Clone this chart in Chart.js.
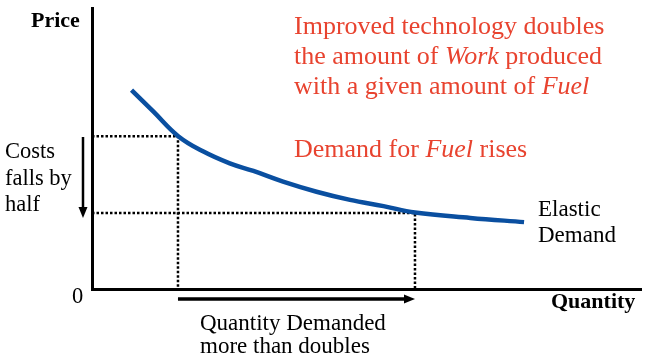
<!DOCTYPE html>
<html>
<head>
<meta charset="utf-8">
<script src="https://cdn.jsdelivr.net/npm/chart.js@4.4.1/dist/chart.umd.min.js"></script>
<style>
html,body{margin:0;padding:0;background:#fff;overflow:hidden;}
</style>
</head>
<body>
<canvas id="c" width="649" height="361"></canvas>
<script>
// Demand curve (quantity, price)
const curveQuantity = [7.2, 11.2, 15.7, 20.3, 25.1, 29.4, 34.8, 40.9, 47.0, 53.1, 58.83, 68.9, 78.7];
const curvePrice    = [70.8, 63.1, 54.4, 48.9, 44.7, 42.0, 38.2, 34.6, 31.7, 29.5, 27.2, 25.3, 23.8];
// Before / after points
const oldPoint = {q: 15.66, p: 54.4};
const newPoint = {q: 58.83, p: 27.05};
// Arrows (data units)
const priceArrow = {q: -1.64, from: 54.1, to: 25.3};
const qtyArrow   = {p: -3.6, from: 15.66, to: 58.83};

const serif = '"Liberation Serif", Times, serif';
const red = '#e8432f';

const curveData = curveQuantity.map((q, i) => ({x: q, y: curvePrice[i]}));
const dot1 = [{x: 0, y: oldPoint.p}, {x: oldPoint.q, y: oldPoint.p}, {x: oldPoint.q, y: 0}];
const dot2 = [{x: 0, y: newPoint.p}, {x: newPoint.q, y: newPoint.p}, {x: newPoint.q, y: 0}];

// prime serif fonts on the main canvas context before the chart draws
const canvasEl = document.getElementById('c');
(function () {
  const t = canvasEl.getContext('2d');
  ['22px serif', '22px Times', '22px "Liberation Serif"', 'bold 22px serif', 'italic 22px serif',
   'bold 22px "Liberation Serif"', 'italic 22px "Liberation Serif"'].forEach(f => {
    t.font = f; t.fillStyle = '#fff'; t.fillText('Price Costs', 0, 20);
  });
  t.clearRect(0, 0, canvasEl.width, canvasEl.height);
})();
Chart.defaults.font.family = serif;

const annot = {
  id: 'annot',
  afterDraw(chart) {
    const ctx = chart.ctx;
    const xs = chart.scales.x, ys = chart.scales.y;
    ctx.save();
    ctx.fillStyle = '#000';
    ctx.strokeStyle = '#000';
    ctx.lineWidth = 2.5;
    // down arrow
    const ax = xs.getPixelForValue(priceArrow.q);
    const ay1 = ys.getPixelForValue(priceArrow.from);
    const ay2 = ys.getPixelForValue(priceArrow.to);
    ctx.beginPath(); ctx.moveTo(ax, ay1); ctx.lineTo(ax, ay2 - 8); ctx.stroke();
    ctx.beginPath(); ctx.moveTo(ax - 4.5, ay2 - 11); ctx.lineTo(ax + 4.5, ay2 - 11); ctx.lineTo(ax, ay2); ctx.closePath(); ctx.fill();
    // right arrow
    const by = ys.getPixelForValue(qtyArrow.p);
    const bx1 = xs.getPixelForValue(qtyArrow.from);
    const bx2 = xs.getPixelForValue(qtyArrow.to);
    ctx.lineWidth = 3.5;
    ctx.beginPath(); ctx.moveTo(bx1, by); ctx.lineTo(bx2 - 8, by); ctx.stroke();
    ctx.beginPath(); ctx.moveTo(bx2 - 11, by - 4.5); ctx.lineTo(bx2 - 11, by + 4.5); ctx.lineTo(bx2, by); ctx.closePath(); ctx.fill();

    // texts
    ctx.textAlign = 'left';
    ctx.textBaseline = 'alphabetic';
    ctx.fillStyle = '#000';
    ctx.font = 'bold 22px ' + serif;
    ctx.fillText('Price', 31, 27);
    ctx.fillText('Quantity', 551, 308);
    ctx.font = '22.5px ' + serif;
    ctx.fillText('Costs', 5, 158);
    ctx.fillText('falls by', 5, 185);
    ctx.fillText('half', 5, 211);
    ctx.fillText('0', 72, 303);
    ctx.font = '23px ' + serif;
    ctx.fillText('Elastic', 538, 216);
    ctx.fillText('Demand', 538, 242);
    ctx.fillText('Quantity Demanded', 200, 330);
    ctx.fillText('more than doubles', 200, 353);

    // red text with italics
    ctx.fillStyle = red;
    const reg = '26px ' + serif, ita = 'italic 26px ' + serif;
    function runs(parts, x, y) {
      for (const [t, it] of parts) {
        ctx.font = it ? ita : reg;
        ctx.fillText(t, x, y);
        x += ctx.measureText(t).width;
      }
    }
    runs([['Improved technology doubles', 0]], 294, 34);
    runs([['the amount of ', 0], ['Work', 1], [' produced', 0]], 294, 64);
    runs([['with a given amount of ', 0], ['Fuel', 1]], 294, 94);
    runs([['Demand for ', 0], ['Fuel', 1], [' rises', 0]], 294, 157);
    ctx.restore();
  }
};

const chart = new Chart(canvasEl, {
  type: 'line',
  data: {
    datasets: [
      {data: curveData, borderColor: '#0a4fa0', borderWidth: 4.5, pointRadius: 0, tension: 0.4, fill: false},
      {data: dot1, borderColor: '#000', borderWidth: 2.5, borderDash: [2.5, 2], pointRadius: 0, tension: 0, fill: false},
      {data: dot2, borderColor: '#000', borderWidth: 2.5, borderDash: [2.5, 2], pointRadius: 0, tension: 0, fill: false}
    ]
  },
  options: {
    responsive: false,
    animation: false,
    events: [],
    layout: {padding: {left: 92, right: 8, top: 8, bottom: 72}},
    plugins: {legend: {display: false}, tooltip: {enabled: false}},
    scales: {
      x: {type: 'linear', min: 0, max: 100,
          ticks: {display: false}, grid: {display: false, drawTicks: false},
          border: {display: true, color: '#000', width: 3}},
      y: {type: 'linear', min: 0, max: 100,
          ticks: {display: false}, grid: {display: false, drawTicks: false},
          border: {display: true, color: '#000', width: 3}}
    }
  },
  plugins: [annot]
});
setTimeout(() => chart.draw(), 50);
setTimeout(() => chart.draw(), 300);
</script>
</body>
</html>
